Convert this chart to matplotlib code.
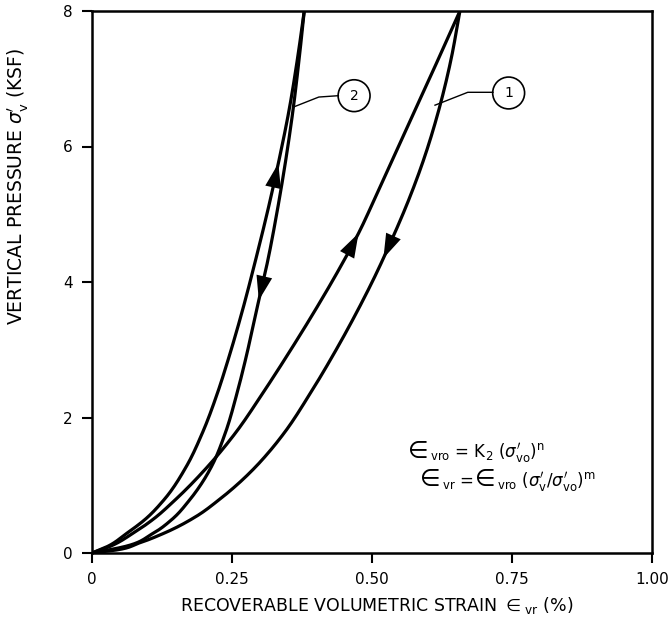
"""
Recoverable volumetric strain vs. vertical pressure: two load/unload loops.
"""
import numpy as np
import matplotlib.pyplot as plt
from matplotlib.patches import Ellipse
from matplotlib.offsetbox import TextArea, HPacker, AnnotationBbox

plt.rcParams['font.family'] = ['DejaVu Sans']
plt.rcParams['mathtext.fontset'] = 'dejavusans'

#===========================================
# loop 1 (wider loop), loading and unloading branches
load1_y = [0, 0.09, 0.29, 0.49, 0.78, 1.27, 1.77, 2.36, 3.0, 3.59, 4.2, 4.72, 5.4, 6.2, 7.1, 8.0]
load1_x = [0, 0.030, 0.073, 0.108, 0.148, 0.206, 0.256, 0.305, 0.355, 0.399, 0.442, 0.476, 0.514, 0.558, 0.608, 0.657]
unload1_y = [0, 0.04, 0.15, 0.29, 0.54, 0.78, 1.0, 1.27, 1.5, 1.77, 2.36, 3.0, 3.59, 4.08, 4.6, 5.2, 5.8, 6.5, 7.28, 8.0]
unload1_x = [0, 0.040, 0.085, 0.128, 0.186, 0.226, 0.258, 0.292, 0.317, 0.343, 0.390, 0.436, 0.475, 0.505, 0.534, 0.565, 0.592, 0.618, 0.641, 0.657]

# loop 2 (steep loop)
load2_y = [0, 0.09, 0.29, 0.49, 0.78, 1.27, 1.77, 2.36, 2.85, 3.59, 4.32, 5.06, 5.80, 6.54, 7.3, 8.0]
load2_x = [0, 0.026, 0.062, 0.094, 0.128, 0.168, 0.197, 0.224, 0.243, 0.269, 0.292, 0.314, 0.334, 0.352, 0.367, 0.379]
unload2_y = [0, 0.09, 0.29, 0.49, 0.78, 1.03, 1.27, 1.77, 2.36, 2.85, 3.59, 4.32, 5.06, 5.80, 6.54, 7.3, 8.0]
unload2_x = [0, 0.056, 0.109, 0.142, 0.174, 0.196, 0.213, 0.238, 0.259, 0.274, 0.294, 0.314, 0.331, 0.346, 0.359, 0.370, 0.379]

# pressure at which the direction arrow tips sit on each branch
arrow_y = {'load1': 4.72, 'unload1': 4.35, 'load2': 5.75, 'unload2': 3.73}

x_ticks = [0, 0.25, 0.5, 0.75, 1.0]
x_ticklabels = ['0', '0.25', '0.50', '0.75', '1.00']
y_ticks = [0, 2, 4, 6, 8]
y_ticklabels = ['0', '2', '4', '6', '8']

#===========================================
# Hermite spline of x as a function of y through the knots
def smooth(x, y, n=30):
    x = np.asarray(x, float)
    y = np.asarray(y, float)
    m = np.gradient(x, y)
    xs, ys = [], []
    for i in range(len(y) - 1):
        h = y[i+1] - y[i]
        t = np.linspace(0, 1, n, endpoint=False)
        h00 = 2*t**3 - 3*t**2 + 1
        h10 = t**3 - 2*t**2 + t
        h01 = -2*t**3 + 3*t**2
        h11 = t**3 - t**2
        xs.append(h00*x[i] + h10*h*m[i] + h01*x[i+1] + h11*h*m[i+1])
        ys.append(y[i] + t*h)
    xs.append([x[-1]])
    ys.append([y[-1]])
    return np.concatenate(xs), np.concatenate(ys)

#===========================================
# Filled arrowhead on a branch, tip at pressure yt
def arrow_on(ax, xs, ys, yt, up):
    d = 0.3
    y0 = yt - d if up else yt + d
    xt = np.interp(yt, ys, xs)
    x0 = np.interp(y0, ys, xs)
    ax.annotate('', xy=(xt, yt), xytext=(x0, y0),
                arrowprops=dict(arrowstyle='-|>,head_length=1.1,head_width=0.36',
                                mutation_scale=16, color='black', lw=0,
                                shrinkA=0, shrinkB=0))

#===========================================
# Equation line made of text pieces, big epsilon signs inline
def equation(ax, pieces, xy):
    boxes = [TextArea(s, textprops=dict(size=sz)) for s, sz in pieces]
    row = HPacker(children=boxes, align='baseline', pad=0, sep=1)
    ab = AnnotationBbox(row, xy, xycoords='data', box_alignment=(0, 0.5),
                        frameon=False, pad=0)
    ax.add_artist(ab)

#===========================================
fig = plt.figure(figsize=(6.72, 6.29), dpi=100)
ax = fig.add_axes([92/672, 1 - 553/629, 560/672, 542/629])

curves = {
    'load1': (load1_x, load1_y, True),
    'unload1': (unload1_x, unload1_y, False),
    'load2': (load2_x, load2_y, True),
    'unload2': (unload2_x, unload2_y, False),
}
for name, (cx, cy, up) in curves.items():
    xs, ys = smooth(cx, cy)
    ax.plot(xs, ys, color='black', lw=2.3, solid_capstyle='round')
    arrow_on(ax, xs, ys, arrow_y[name], up)

ax.set_xlim(0, 1)
ax.set_ylim(0, 8)
ax.set_xticks(x_ticks)
ax.set_xticklabels(x_ticklabels)
ax.set_yticks(y_ticks)
ax.set_yticklabels(y_ticklabels)
ax.tick_params(direction='out', length=7, width=1.5, labelsize=11, pad=7)
for s in ax.spines.values():
    s.set_linewidth(1.8)

# circled curve labels with leader lines
ax.plot([0.359, 0.405, 0.440], [6.58, 6.73, 6.75], color='black', lw=1)
ax.add_patch(Ellipse((0.468, 6.75), 0.057, 0.47, fc='white', ec='black', lw=1.2))
ax.text(0.468, 6.75, '2', ha='center', va='center', fontsize=10)

ax.plot([0.6125, 0.671, 0.716], [6.61, 6.80, 6.80], color='black', lw=1)
ax.add_patch(Ellipse((0.744, 6.79), 0.057, 0.47, fc='white', ec='black', lw=1.2))
ax.text(0.744, 6.79, '1', ha='center', va='center', fontsize=10)

# model equations
equation(ax, [('\u2208', 17), (r'$_{\rm vro}$ = K$_2$ ($\sigma^{\prime}_{\rm vo}$)$^{\rm n}$', 12)],
         (0.564, 1.49))
equation(ax, [('\u2208', 17), (r'$_{\rm vr}$ =', 12), ('\u2208', 17),
              (r'$_{\rm vro}$ ($\sigma^{\prime}_{\rm v}$/$\sigma^{\prime}_{\rm vo}$)$^{\rm m}$', 12)],
         (0.585, 1.07))

fig.text(377/672, 1 - 605/629, r'RECOVERABLE VOLUMETRIC STRAIN $\in_{\rm vr}$ (%)',
         ha='center', va='center', fontsize=12.5)
fig.text(18/672, 1 - 186/629, r"VERTICAL PRESSURE $\sigma^{\prime}_{\rm v}$ (KSF)",
         ha='center', va='center', rotation=90, fontsize=13.5)

fig.savefig('out.png', dpi=100, facecolor='white')
